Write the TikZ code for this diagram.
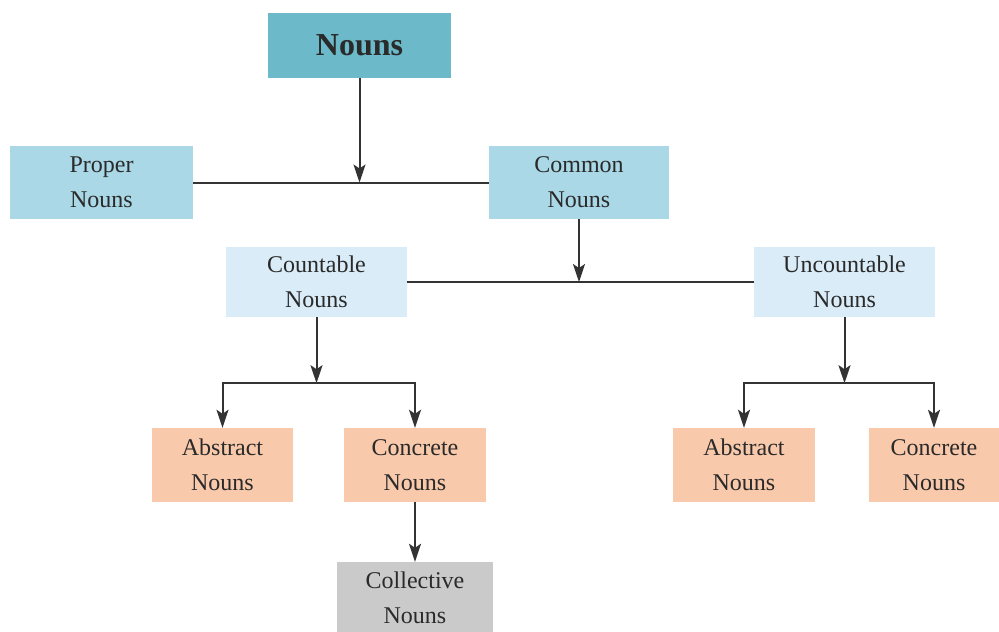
\documentclass[tikz,border=0pt]{standalone}
\usepackage{fontspec}
\setmainfont{Liberation Serif}
\usetikzlibrary{arrows.meta}
\definecolor{topc}{HTML}{6BB9C9}
\definecolor{midc}{HTML}{AAD8E6}
\definecolor{lowc}{HTML}{D9ECF7}
\definecolor{salm}{HTML}{F9C9AB}
\definecolor{grayc}{HTML}{CACACA}
\definecolor{txt}{HTML}{2A2A2A}
\definecolor{ln}{HTML}{333333}
\tikzset{
  box/.style={inner sep=0pt, align=center, text=txt, font=\fontsize{24}{35}\selectfont},
  conn/.style={draw=ln, line width=2pt},
  arr/.style={conn, -{Stealth[length=18pt,width=12pt,inset=4pt]}},
}
\begin{document}
\begin{tikzpicture}[x=1pt,y=1pt]
\useasboundingbox (0,0) rectangle (999,-632);
\fill[white] (0,0) rectangle (999,-632);
\node[box, fill=topc, minimum width=183, minimum height=65, font=\fontsize{32}{36}\selectfont\bfseries] (nouns) at (359.5,-45.5) {Nouns};
\node[box, fill=midc, minimum width=183, minimum height=73] (proper) at (101.5,-182.5) {Proper\\Nouns};
\node[box, fill=midc, minimum width=180, minimum height=73] (common) at (579,-182.5) {Common\\Nouns};
\node[box, fill=lowc, minimum width=181, minimum height=70] (countable) at (316.5,-282) {Countable\\Nouns};
\node[box, fill=lowc, minimum width=181, minimum height=70] (uncountable) at (844.5,-282) {Uncountable\\Nouns};
\node[box, fill=salm, minimum width=141, minimum height=74] (abs1) at (222.5,-465) {Abstract\\Nouns};
\node[box, fill=salm, minimum width=142, minimum height=74] (con1) at (415,-465) {Concrete\\Nouns};
\node[box, fill=grayc, minimum width=156, minimum height=72] (coll) at (415,-598) {Collective\\Nouns};
\node[box, fill=salm, minimum width=142, minimum height=74] (abs2) at (744,-465) {Abstract\\Nouns};
\node[box, fill=salm, minimum width=130, minimum height=74] (con2) at (934,-465) {Concrete\\Nouns};
% level 1
\coordinate (j1) at (nouns.south |- proper.east);
\draw[conn] (proper.east) -- (common.west);
\draw[arr] (nouns.south) -- (j1);
% level 2
\coordinate (j2) at (common.south |- countable.east);
\draw[conn] (countable.east) -- (uncountable.west);
\draw[arr] (common.south) -- (j2);
% countable branch
\coordinate (j3) at ([yshift=-66pt]countable.south);
\draw[arr] (countable.south) -- (j3);
\draw[arr] (j3) -| (abs1.north);
\draw[arr] (j3) -| (con1.north);
\draw[arr] (con1.south) -- (coll.north);
% uncountable branch
\coordinate (j4) at ([yshift=-66pt]uncountable.south);
\draw[arr] (uncountable.south) -- (j4);
\draw[arr] (j4) -| (abs2.north);
\draw[arr] (j4) -| (con2.north);
\end{tikzpicture}
\end{document}
